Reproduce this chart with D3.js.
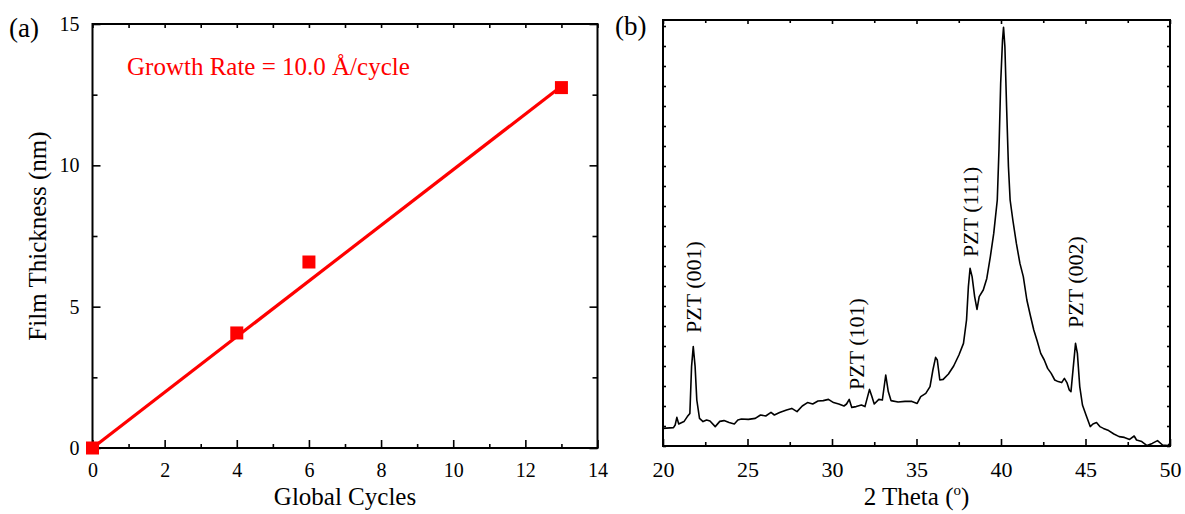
<!DOCTYPE html>
<html>
<head>
<meta charset="utf-8">
<script src="https://cdn.jsdelivr.net/npm/d3@7"></script>
<style>
  body { margin: 0; background: #fff; }
  svg { display: block; }
  text { font-family: "Liberation Serif", "Times New Roman", serif; fill: #000; }
</style>
</head>
<body>
<svg id="chart" width="1185" height="514"></svg>
<script>
// ---- Panel (a): film thickness versus global ALD cycles ----
const cycles = [0, 4, 6, 13];
const thickness = [0, 4.07, 6.58, 12.75];
const fitCycles = [0, 13];
const fitThickness = [0, 12.8];
const growthLabel = "Growth Rate = 10.0 Å/cycle";
const cycleTicks = [0, 2, 4, 6, 8, 10, 12, 14];
const cycleMinorTicks = [1, 3, 5, 7, 9, 11, 13];
const thicknessTicks = [0, 5, 10, 15];
const thicknessMinorTicks = [2.5, 7.5, 12.5];

// ---- Panel (b): XRD pattern ----
const twoTheta = [
  20.00, 20.62, 20.72, 20.82, 20.93, 21.24, 21.44, 21.59, 21.69, 21.79,
  21.90, 22.00, 22.16, 22.37, 22.58, 22.78, 23.09, 23.36, 23.61, 23.91,
  24.22, 24.43, 24.64, 25.05, 25.46, 25.77, 26.08, 26.39, 26.59, 26.90,
  27.31, 27.62, 27.93, 28.24, 28.55, 28.86, 29.17, 29.48, 29.79, 30.09,
  30.40, 30.71, 30.86, 31.02, 31.17, 31.43, 31.74, 31.95, 32.22, 32.36,
  32.50, 32.77, 32.98, 33.18, 33.33, 33.49, 33.91, 34.32, 34.73, 35.04,
  35.25, 35.55, 35.80, 35.97, 36.13, 36.23, 36.38, 36.58, 36.89, 37.20,
  37.51, 37.78, 37.96, 38.07, 38.17, 38.29, 38.44, 38.58, 38.71, 38.95,
  39.16, 39.37, 39.57, 39.78, 39.88, 39.98, 40.09, 40.15, 40.23, 40.33,
  40.44, 40.54, 40.70, 40.91, 41.12, 41.32, 41.53, 41.73, 41.94, 42.15,
  42.35, 42.56, 42.76, 42.97, 43.18, 43.38, 43.59, 43.75, 43.90, 44.04,
  44.14, 44.27, 44.41, 44.52, 44.66, 44.82, 45.03, 45.28, 45.44, 45.65,
  45.85, 46.06, 46.37, 46.68, 46.99, 47.30, 47.61, 47.88, 48.02, 48.33,
  48.64, 48.95, 49.26, 49.56, 49.87, 50.00
];
const intensity = [
   88,   92,  105,  143,  110,  122,  147,  163,  397,  497,
  397,  230,  138,  122,  130,  125,   97,  123,  127,  117,
  110,  130,  135,  133,  138,  155,  150,  168,  155,  167,
  180,  188,  172,  200,  217,  210,  225,  227,  233,  217,
  210,  200,  210,  233,  193,  197,  205,  197,  283,  247,
  210,  233,  230,  355,  272,  227,  220,  223,  223,  213,
  247,  263,  297,  380,  443,  430,  330,  333,  360,  400,
  455,  513,  630,  797,  888,  847,  747,  683,  747,  780,
  838,  947, 1063, 1230, 1480, 1813, 2030, 2093, 1997, 1697,
 1397, 1230, 1130, 1013,  913,  847,  730,  655,  580,  522,
  463,  430,  388,  363,  330,  322,  317,  338,  317,  280,
  272,  388,  513,  463,  297,  205,  155,   97,  110,  117,
   97,   88,   77,   60,   47,   43,   33,   50,   30,   22,
    2,   13,   27,    5,    2,   13
];
const thetaTicks = [20, 25, 30, 35, 40, 45, 50];
const thetaMinorTicks = [22.5, 27.5, 32.5, 37.5, 42.5, 47.5];
const intensityTicks = d3.range(0, 2200, 100);
const peakLabels = ["PZT (001)", "PZT (101)", "PZT (111)", "PZT (002)"];
const peakPositions = [21.79, 31.45, 38.17, 44.41];
const peakLabelBase = [565, 280, 945, 590];

const svg = d3.select("#chart");

// ---------- panel (a) ----------
const ax = { left: 92.5, right: 597.5, top: 24, bottom: 448 };
const xA = d3.scaleLinear().domain([0, 14]).range([ax.left, ax.right]);
const yA = d3.scaleLinear().domain([0, 15]).range([ax.bottom, ax.top]);
const gA = svg.append("g");

function tickAxis(g, axisFn, scale, values, size, pad, fontSize, labels) {
  const a = axisFn(scale).tickValues(values).tickSize(size).tickPadding(pad);
  if (!labels) a.tickFormat("");
  const sel = g.append("g").call(a);
  sel.select(".domain").remove();
  sel.selectAll("line").attr("stroke", "#000").attr("stroke-width", 1.6);
  sel.selectAll("text").attr("font-size", fontSize).attr("font-family", null);
  return sel;
}

// bottom / top
tickAxis(gA.append("g").attr("transform", `translate(0,${ax.bottom})`), d3.axisBottom, xA, cycleTicks, -8, 15, 20, true);
tickAxis(gA.append("g").attr("transform", `translate(0,${ax.bottom})`), d3.axisBottom, xA, cycleMinorTicks, -4, 0, 20, false);
tickAxis(gA.append("g").attr("transform", `translate(0,${ax.top})`), d3.axisTop, xA, cycleTicks.concat(cycleMinorTicks), -4, 0, 20, false);
// left / right
tickAxis(gA.append("g").attr("transform", `translate(${ax.left},0)`), d3.axisLeft, yA, thicknessTicks, -8, 13, 20, true);
tickAxis(gA.append("g").attr("transform", `translate(${ax.left},0)`), d3.axisLeft, yA, thicknessMinorTicks, -5, 0, 20, false);
tickAxis(gA.append("g").attr("transform", `translate(${ax.right},0)`), d3.axisRight, yA, thicknessTicks, -8, 0, 20, false);
tickAxis(gA.append("g").attr("transform", `translate(${ax.right},0)`), d3.axisRight, yA, thicknessMinorTicks, -5, 0, 20, false);

gA.append("rect")
  .attr("x", ax.left).attr("y", ax.top)
  .attr("width", ax.right - ax.left).attr("height", ax.bottom - ax.top)
  .attr("fill", "none").attr("stroke", "#000").attr("stroke-width", 2);

// fitted growth line
const fitLine = d3.line().x(d => xA(d[0])).y(d => yA(d[1]));
gA.append("path")
  .datum(d3.zip(fitCycles, fitThickness))
  .attr("d", fitLine)
  .attr("fill", "none").attr("stroke", "#ff0000").attr("stroke-width", 3.2);

// measured points
const ms = 13;
gA.selectAll("rect.pt").data(d3.zip(cycles, thickness)).join("rect")
  .attr("class", "pt")
  .attr("x", d => xA(d[0]) - ms / 2).attr("y", d => yA(d[1]) - ms / 2)
  .attr("width", ms).attr("height", ms)
  .attr("fill", "#ff0000");

gA.append("text").attr("x", 127).attr("y", 75)
  .attr("font-size", 25).style("fill", "#ff0000").text(growthLabel);

gA.append("text").attr("x", (ax.left + ax.right) / 2).attr("y", 505)
  .attr("text-anchor", "middle").attr("font-size", 25).text("Global Cycles");
gA.append("text")
  .attr("transform", `translate(46,${(ax.top + ax.bottom) / 2}) rotate(-90)`)
  .attr("text-anchor", "middle").attr("font-size", 25).text("Film Thickness (nm)");
gA.append("text").attr("x", 9).attr("y", 37).attr("font-size", 27).text("(a)");

// ---------- panel (b) ----------
const bx = { left: 663, right: 1170, top: 20, bottom: 446 };
const xB = d3.scaleLinear().domain([20, 50]).range([bx.left, bx.right]);
const yB = d3.scaleLinear().domain([0, 2130]).range([bx.bottom, bx.top]);
const gB = svg.append("g");

tickAxis(gB.append("g").attr("transform", `translate(0,${bx.bottom})`), d3.axisBottom, xB, thetaTicks, -7, 15, 22, true);
tickAxis(gB.append("g").attr("transform", `translate(0,${bx.bottom})`), d3.axisBottom, xB, thetaMinorTicks, -4, 0, 22, false);
tickAxis(gB.append("g").attr("transform", `translate(0,${bx.top})`), d3.axisTop, xB, thetaTicks, -4, 0, 22, false);
tickAxis(gB.append("g").attr("transform", `translate(0,${bx.top})`), d3.axisTop, xB, thetaMinorTicks, -3, 0, 22, false);
tickAxis(gB.append("g").attr("transform", `translate(${bx.left},0)`), d3.axisLeft, yB, intensityTicks, -3, 0, 22, false);
tickAxis(gB.append("g").attr("transform", `translate(${bx.right},0)`), d3.axisRight, yB, intensityTicks, -3, 0, 22, false);

gB.append("rect")
  .attr("x", bx.left).attr("y", bx.top)
  .attr("width", bx.right - bx.left).attr("height", bx.bottom - bx.top)
  .attr("fill", "none").attr("stroke", "#000").attr("stroke-width", 2);

const xrdLine = d3.line().x(d => xB(d[0])).y(d => yB(d[1]));
gB.append("path")
  .datum(d3.zip(twoTheta, intensity))
  .attr("d", xrdLine)
  .attr("fill", "none").attr("stroke", "#000").attr("stroke-width", 1.6)
  .attr("stroke-linejoin", "round");

gB.selectAll("text.peak").data(d3.zip(peakLabels, peakPositions, peakLabelBase)).join("text")
  .attr("class", "peak")
  .attr("transform", d => `translate(${xB(d[1])},${yB(d[2])}) rotate(-90)`)
  .attr("dy", "0.35em")
  .attr("font-size", 22)
  .text(d => d[0]);

const xt = gB.append("text").attr("x", (bx.left + bx.right) / 2).attr("y", 505)
  .attr("text-anchor", "middle").attr("font-size", 25);
xt.append("tspan").text("2 Theta (");
xt.append("tspan").attr("font-size", 15).attr("dy", -10).text("o");
xt.append("tspan").attr("dy", 10).text(")");

gB.append("text").attr("x", 615).attr("y", 35).attr("font-size", 27).text("(b)");
</script>
</body>
</html>
